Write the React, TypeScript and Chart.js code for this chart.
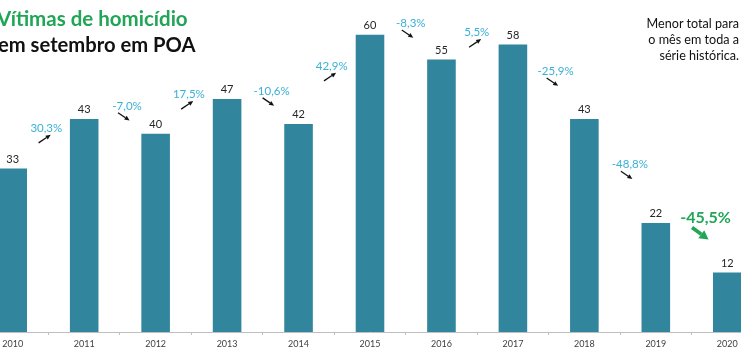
import { useEffect, useRef } from "react";
import { Chart, registerables } from "chart.js";

Chart.register(...registerables);

// ---- data ----
const years = ["2010", "2011", "2012", "2013", "2014", "2015", "2016", "2017", "2018", "2019", "2020"];
const victims = [33, 43, 40, 47, 42, 60, 55, 58, 43, 22, 12];
const changeLabels = ["30,3%", "-7,0%", "17,5%", "-10,6%", "42,9%", "-8,3%", "5,5%", "-25,9%", "-48,8%", "-45,5%"];
const titleLines = ["Vítimas de homicídio", "em setembro em POA"];
const noteLines = ["Menor total para", "o mês em toda a", "série histórica."];

// annotation anchors (x in category index units, y in data units)
const changeAnchorX = [0.47, 1.6, 2.465, 3.623, 4.464, 5.571, 6.494, 7.598, 8.637, 9.696];
const changeAnchorY = [41.1, 45.6, 47.9, 48.6, 53.6, 62.3, 60.4, 52.6, 33.8, 23.0];

const BAR = "#31859C";
const CYAN = "#3AB0D6";
const GREEN = "#21A556";
const FONT = "Lato, 'Open Sans', sans-serif";

function arrow(ctx: CanvasRenderingContext2D, x1: number, y1: number, x2: number, y2: number, lw: number, hl: number, hw: number, color: string) {
  const ang = Math.atan2(y2 - y1, x2 - x1);
  const bx = x2 - Math.cos(ang) * hl;
  const by = y2 - Math.sin(ang) * hl;
  ctx.strokeStyle = color;
  ctx.fillStyle = color;
  ctx.lineWidth = lw;
  ctx.beginPath();
  ctx.moveTo(x1, y1);
  ctx.lineTo(bx, by);
  ctx.stroke();
  ctx.beginPath();
  ctx.moveTo(x2, y2);
  ctx.lineTo(bx + Math.sin(ang) * hw / 2, by - Math.cos(ang) * hw / 2);
  ctx.lineTo(bx - Math.sin(ang) * hw / 2, by + Math.cos(ang) * hw / 2);
  ctx.closePath();
  ctx.fill();
}

const annotations = {
  id: "annotations",
  afterDatasetsDraw(chart: any) {
    const { ctx } = chart;
    const xs = chart.scales.x;
    const ys = chart.scales.y;
    const meta = chart.getDatasetMeta(0);
    ctx.save();
    ctx.textAlign = "center";
    ctx.textBaseline = "middle";
    ctx.font = `11px ${FONT}`;
    ctx.fillStyle = "#262626";
    meta.data.forEach((bar: any, i: number) => {
      ctx.fillText(String(victims[i]), bar.x, bar.y - 9.5);
    });
    changeLabels.forEach((label, i) => {
      const px = xs.getPixelForValue(changeAnchorX[i]);
      const py = ys.getPixelForValue(changeAnchorY[i]);
      const rising = victims[i + 1] > victims[i];
      const last = i === changeLabels.length - 1;
      if (last) {
        ctx.font = `bold 16px ${FONT}`;
        ctx.fillStyle = GREEN;
        ctx.fillText(label, px, py);
        arrow(ctx, px - 13.5, py + 9.5, px + 3, py + 21.5, 3.5, 9, 10, GREEN);
      } else {
        ctx.font = `11.5px ${FONT}`;
        ctx.fillStyle = CYAN;
        ctx.fillText(label, px, py);
        if (rising) arrow(ctx, px - 7.7, py + 14.5, px + 4.4, py + 6.4, 1.3, 5, 4.5, "#111");
        else arrow(ctx, px - 9, py + 6.7, px + 2.5, py + 14.5, 1.3, 5, 4.5, "#111");
      }
    });
    ctx.restore();
  },
};

export default function App() {
  const ref = useRef<HTMLCanvasElement>(null);
  useEffect(() => {
    if (!ref.current) return;
    const chart = new Chart(ref.current, {
      type: "bar",
      data: {
        labels: years,
        datasets: [
          {
            data: victims,
            backgroundColor: BAR,
            barPercentage: 0.4,
            categoryPercentage: 1,
          },
        ],
      },
      options: {
        animation: false,
        responsive: false,
        layout: { padding: 0 },
        plugins: { legend: { display: false }, tooltip: { enabled: false } },
        scales: {
          x: {
            grid: { display: true, drawOnChartArea: false, drawTicks: true, tickLength: 3, color: "#bfbfbf" },
            border: { display: true, color: "#bfbfbf" },
            ticks: { font: { family: FONT, size: 9 }, color: "#404040", padding: 4 },
            afterFit: (s: any) => {
              s.height = 22;
            },
          },
          y: { display: false, min: 0, max: 67 },
        },
      },
      plugins: [annotations],
    });
    return () => chart.destroy();
  }, []);

  return (
    <div style={{ position: "fixed", left: 0, top: 0, width: 741, height: 354, overflow: "hidden", background: "#fff", fontFamily: FONT }}>
      <canvas ref={ref} width={786} height={354} style={{ position: "absolute", left: -23, top: 0, width: 786, height: 354 }} />
      <div style={{ position: "absolute", left: -3, top: 6, fontSize: 20.5, lineHeight: "24px", fontWeight: 700, color: GREEN, whiteSpace: "nowrap" }}>
        {titleLines[0]}
      </div>
      <div style={{ position: "absolute", left: -2, top: 32, fontSize: 20.2, lineHeight: "24px", fontWeight: 700, color: "#111", whiteSpace: "nowrap" }}>
        {titleLines[1]}
      </div>
      <div style={{ position: "absolute", right: 2, top: 16, fontSize: 12.6, lineHeight: "16.2px", color: "#111", textAlign: "right", whiteSpace: "nowrap" }}>
        {noteLines.map((l) => (
          <div key={l}>{l}</div>
        ))}
      </div>
    </div>
  );
}
